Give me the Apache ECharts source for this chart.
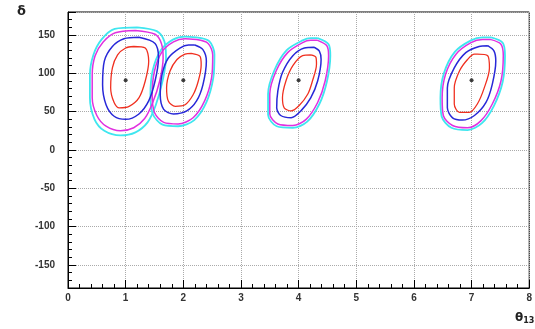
<!DOCTYPE html>
<html>
<head>
<meta charset="utf-8">
<script src="https://cdn.jsdelivr.net/npm/echarts@6/dist/echarts.min.js"></script>
<style>html,body{margin:0;padding:0;background:#fff;}#c{width:535px;height:329px;}</style>
</head>
<body>
<div id="c"></div>
<script>
// Best-fit points (θ13, δ)
const centersTheta = [1, 2, 4, 7];
const centersDelta = [91, 91, 91, 91];

// Contours: [θ13, δ] pairs
const red1 = [[1.14,135],[1.34,133],[1.40,116],[1.34,90],[1.23,68],[1.06,57],[0.89,55],[0.80,62],[0.74,81],[0.77,107],[0.86,124],[1.00,133]];
const blue1 = [[1.23,147],[1.51,139],[1.57,120],[1.51,90],[1.40,64],[1.23,47],[1.00,40],[0.80,44],[0.66,59],[0.60,85],[0.63,116],[0.77,135],[0.97,145]];
const magenta1 = [[1.17,156],[1.51,151],[1.62,139],[1.65,120],[1.59,90],[1.47,62],[1.33,41],[1.14,29],[0.91,25],[0.66,31],[0.50,45],[0.42,68],[0.42,98],[0.47,123],[0.61,141],[0.82,153]];
const cyan1 = [[1.20,160],[1.54,155],[1.67,142],[1.70,120],[1.64,90],[1.52,58],[1.38,36],[1.17,23],[0.91,19],[0.63,25],[0.46,40],[0.38,68],[0.38,98],[0.44,124],[0.58,144],[0.81,158]];

const red2 = [[2.14,126],[2.29,122],[2.31,111],[2.26,90],[2.17,72],[2.03,59],[1.86,57],[1.74,64],[1.71,81],[1.77,103],[1.89,118],[2.03,125]];
const blue2 = [[2.20,137],[2.34,131],[2.40,116],[2.34,85],[2.23,64],[2.06,51],[1.83,47],[1.66,53],[1.60,72],[1.63,98],[1.74,120],[1.94,133],[2.09,137]];
const magenta2 = [[2.23,144],[2.43,139],[2.51,124],[2.49,94],[2.37,64],[2.17,42],[1.91,34],[1.66,36],[1.50,49],[1.46,72],[1.50,103],[1.63,128],[1.83,141],[2.03,145]];
const cyan2 = [[2.23,147],[2.45,142],[2.54,125],[2.52,94],[2.40,62],[2.19,39],[1.91,31],[1.64,33],[1.47,47],[1.43,72],[1.47,104],[1.61,130],[1.82,144],[2.03,148]];

const red4 = [[4.21,124],[4.30,121],[4.31,112],[4.24,90],[4.16,73],[4.01,58],[3.87,51],[3.75,55],[3.72,68],[3.78,90],[3.90,110],[4.07,123]];
const blue4 = [[4.27,134],[4.36,129],[4.39,118],[4.33,90],[4.21,68],[4.04,51],[3.87,42],[3.69,45],[3.62,55],[3.64,77],[3.72,101],[3.90,123],[4.10,133]];
const magenta4 = [[4.33,143],[4.49,136],[4.52,123],[4.46,90],[4.33,62],[4.13,40],[3.90,32],[3.64,34],[3.50,47],[3.50,73],[3.61,103],[3.81,127],[4.07,140],[4.21,143]];
const cyan4 = [[4.33,146],[4.52,138],[4.55,123],[4.49,89],[4.36,60],[4.15,37],[3.90,29],[3.62,31],[3.47,46],[3.47,73],[3.58,104],[3.79,130],[4.07,143],[4.21,146]];

const red7 = [[7.10,125],[7.28,123],[7.31,107],[7.22,81],[7.10,60],[6.96,49],[6.79,49],[6.70,60],[6.70,81],[6.79,103],[6.93,118],[7.05,125]];
const blue7 = [[7.28,136],[7.39,129],[7.42,116],[7.36,86],[7.25,62],[7.05,45],[6.84,39],[6.67,42],[6.58,55],[6.58,81],[6.70,107],[6.90,127],[7.13,135]];
const magenta7 = [[7.34,144],[7.51,138],[7.55,123],[7.51,90],[7.36,60],[7.16,38],[6.93,29],[6.67,32],[6.51,45],[6.49,68],[6.55,99],[6.73,125],[6.99,140],[7.19,144]];
const cyan7 = [[7.34,147],[7.54,140],[7.58,123],[7.54,89],[7.39,58],[7.18,35],[6.93,26],[6.65,29],[6.48,44],[6.46,68],[6.52,100],[6.71,128],[6.99,143],[7.19,147]];

const contours = [
  {pts: cyan1, c: '#3fe6ef', w: 1.8}, {pts: cyan2, c: '#3fe6ef', w: 1.8}, {pts: cyan4, c: '#3fe6ef', w: 1.8}, {pts: cyan7, c: '#3fe6ef', w: 1.8},
  {pts: magenta1, c: '#e030e0', w: 1.5}, {pts: magenta2, c: '#e030e0', w: 1.5}, {pts: magenta4, c: '#e030e0', w: 1.5}, {pts: magenta7, c: '#e030e0', w: 1.5},
  {pts: blue1, c: '#2828d8', w: 1.5}, {pts: blue2, c: '#2828d8', w: 1.5}, {pts: blue4, c: '#2828d8', w: 1.5}, {pts: blue7, c: '#2828d8', w: 1.5},
  {pts: red1, c: '#f03020', w: 1.3}, {pts: red2, c: '#f03020', w: 1.3}, {pts: red4, c: '#f03020', w: 1.3}, {pts: red7, c: '#f03020', w: 1.3}
];

const series = contours.map(o => ({
  type: 'line',
  data: o.pts.concat([o.pts[0]]),
  showSymbol: false,
  smooth: 0.3,
  silent: true,
  lineStyle: {color: o.c, width: o.w},
  z: 2
}));
series.push({
  type: 'scatter',
  data: centersTheta.map((t, i) => [t, centersDelta[i]]),
  symbol: 'circle',
  symbolSize: 4,
  itemStyle: {color: '#111'},
  z: 5
});

const chart = echarts.init(document.getElementById('c'), null, {renderer: 'canvas'});
const lab = {color: '#333', fontSize: 10, fontWeight: 'bold', fontFamily: 'Liberation Sans, Arial, sans-serif'};
chart.setOption({
  animation: false,
  backgroundColor: '#fff',
  grid: {left: 68, right: 3, top: 12, bottom: 41, show: true, borderColor: '#000', borderWidth: 1},
  xAxis: {
    type: 'value', min: 0, max: 8, interval: 1,
    axisLine: {show: true, onZero: false, lineStyle: {color: '#000'}},
    axisTick: {show: true, inside: true, length: 8, lineStyle: {color: '#000'}},
    minorTick: {show: true, splitNumber: 5, length: 4, lineStyle: {color: '#000'}},
    splitLine: {show: true, lineStyle: {color: '#aaa', type: 'dotted', width: 1}},
    axisLabel: Object.assign({margin: 5}, lab)
  },
  yAxis: {
    type: 'value', min: -180, max: 180, splitNumber: 7,
    axisLine: {show: true, onZero: false, lineStyle: {color: '#000'}},
    axisTick: {show: true, inside: true, length: 8, lineStyle: {color: '#000'}},
    minorTick: {show: true, splitNumber: 5, length: 4, lineStyle: {color: '#000'}},
    splitLine: {show: true, lineStyle: {color: '#aaa', type: 'dotted', width: 1}},
    axisLabel: Object.assign({margin: 13, showMinLabel: false, showMaxLabel: false}, lab)
  },
  graphic: [
    {type: 'text', left: 17, top: 5, style: {text: 'δ', fontSize: 13, fontWeight: 'bold', fill: '#222', fontFamily: 'DejaVu Sans, sans-serif'}},
    {type: 'text', left: 515, top: 312, style: {
      text: '{a|θ}{b|13}', fill: '#222',
      rich: {a: {fontSize: 12, fontWeight: 'bold', fontFamily: 'DejaVu Sans, sans-serif', fill: '#222'},
             b: {fontSize: 8, fontWeight: 'bold', fontFamily: 'DejaVu Sans, sans-serif', fill: '#222', padding: [6, 0, 0, 0]}}
    }}
  ],
  series: series
});
</script>
</body>
</html>
